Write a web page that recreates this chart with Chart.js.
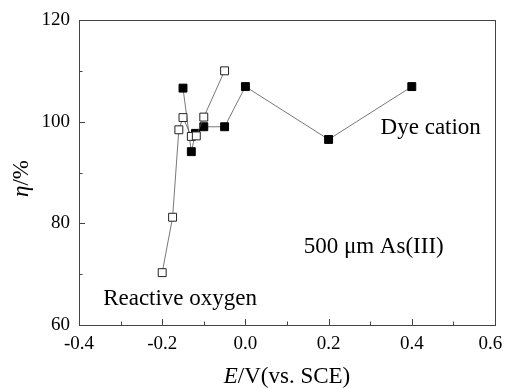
<!DOCTYPE html>
<html>
<head>
<meta charset="utf-8">
<script src="https://cdn.jsdelivr.net/npm/chart.js@4.4.1/dist/chart.umd.min.js"></script>
<style>
  html, body { margin: 0; padding: 0; background: #fff; }
  #wrap { position: relative; width: 505px; height: 388px; }
</style>
</head>
<body>
<div id="wrap"><canvas id="etaChart"></canvas></div>
<script>
// data
const oxygenE   = [-0.20, -0.175, -0.16, -0.15, -0.13, -0.118, -0.10, -0.05];
const oxygenEta = [70.3, 81.2, 98.4, 100.8, 97.1, 97.2, 100.9, 110.0];

const dyeE   = [-0.15, -0.13, -0.12, -0.10, -0.05, 0.00, 0.20, 0.40];
const dyeEta = [106.6, 94.1, 97.7, 99.0, 99.0, 106.9, 96.5, 106.9];

const xTicks = [-0.4, -0.2, 0.0, 0.2, 0.4, 0.6];
const yTicks = [60, 80, 100, 120];

const notes = [
  { text: "Dye cation", x: 0.325, y: 97.6 },
  { text: "500 \u03bcm As(III)", x: 0.14, y: 74.2 },
  { text: "Reactive oxygen", x: -0.342, y: 63.9 }
];

const SERIF = "'Liberation Serif', 'Times New Roman', serif";

function toPoints(xs, ys) {
  return xs.map((v, i) => ({ x: v, y: ys[i] }));
}

// frame, inward ticks, axis titles and text notes
const decorPlugin = {
  id: "decor",
  afterDraw(chart) {
    const { ctx, chartArea: a, scales: { x, y } } = chart;
    ctx.save();
    ctx.strokeStyle = "#444";
    ctx.lineWidth = 1;
    ctx.strokeRect(Math.round(a.left) + 0.5, Math.round(a.top) + 0.5,
      Math.round(a.right - a.left), Math.round(a.bottom - a.top));

    ctx.beginPath();
    const xStep = (xTicks[1] - xTicks[0]) / 2;
    for (let i = 0; i <= (xTicks.length - 1) * 2; i++) {
      const px = Math.round(x.getPixelForValue(xTicks[0] + i * xStep)) + 0.5;
      const len = i % 2 === 0 ? 6 : 3.5;
      ctx.moveTo(px, a.bottom);
      ctx.lineTo(px, a.bottom - len);
    }
    const yStep = (yTicks[1] - yTicks[0]) / 2;
    for (let i = 0; i <= (yTicks.length - 1) * 2; i++) {
      const py = Math.round(y.getPixelForValue(yTicks[0] + i * yStep)) + 0.5;
      const len = i % 2 === 0 ? 6 : 3.5;
      ctx.moveTo(a.left, py);
      ctx.lineTo(a.left + len, py);
    }
    ctx.stroke();

    ctx.fillStyle = "#000";
    ctx.textBaseline = "alphabetic";
    ctx.textAlign = "left";
    ctx.font = "23px " + SERIF;
    notes.forEach(n => {
      ctx.fillText(n.text, x.getPixelForValue(n.x), y.getPixelForValue(n.y));
    });

    // x title: italic E + rest
    const italic = "italic 23px " + SERIF;
    const upright = "23px " + SERIF;
    ctx.font = italic;
    const wE = ctx.measureText("E").width;
    ctx.font = upright;
    const wRest = ctx.measureText("/V(vs. SCE)").width;
    let sx = (a.left + a.right) / 2 - (wE + wRest) / 2;
    ctx.font = italic;
    ctx.fillText("E", sx, 383);
    ctx.font = upright;
    ctx.fillText("/V(vs. SCE)", sx + wE, 383);

    // y title: italic eta + /%
    ctx.translate(28, (a.top + a.bottom) / 2 + 6);
    ctx.rotate(-Math.PI / 2);
    ctx.font = italic;
    const wEta = ctx.measureText("\u03b7").width;
    ctx.font = upright;
    const wPct = ctx.measureText("/%").width;
    sx = -(wEta + wPct) / 2;
    ctx.font = italic;
    ctx.fillText("\u03b7", sx, 0);
    ctx.font = upright;
    ctx.fillText("/%", sx + wEta, 0);
    ctx.restore();
  }
};

const tickFont = { family: SERIF, size: 19 };

new Chart(document.getElementById("etaChart"), {
  type: "scatter",
  data: {
    datasets: [
      {
        label: "Reactive oxygen",
        data: toPoints(oxygenE, oxygenEta),
        showLine: true,
        borderColor: "#555",
        borderWidth: 0.8,
        pointStyle: "rect",
        pointRadius: 5.6,
        pointBackgroundColor: "#fff",
        pointBorderColor: "#222",
        pointBorderWidth: 1
      },
      {
        label: "Dye cation",
        data: toPoints(dyeE, dyeEta),
        showLine: true,
        borderColor: "#555",
        borderWidth: 0.8,
        pointStyle: "rect",
        pointRadius: 5.6,
        pointBackgroundColor: "#000",
        pointBorderColor: "#000",
        pointBorderWidth: 1
      }
    ]
  },
  options: {
    responsive: true,
    maintainAspectRatio: false,
    animation: false,
    layout: { padding: { top: 20, right: 10, left: 0, bottom: 0 } },
    plugins: {
      legend: { display: false },
      tooltip: { enabled: false }
    },
    scales: {
      x: {
        type: "linear",
        min: xTicks[0],
        max: xTicks[xTicks.length - 1],
        afterBuildTicks: s => { s.ticks = xTicks.map(v => ({ value: v })); },
        afterFit: s => { s.height = 63; s.paddingLeft = 0; s.paddingRight = 0; },
        grid: { display: false, drawTicks: false },
        border: { display: false },
        ticks: {
          color: "#000",
          font: tickFont,
          padding: 8,
          maxRotation: 0,
          autoSkip: false,
          // last label is nudged left in the original so it stays inside the image
          callback: (v, i) => v.toFixed(1) + (i === xTicks.length - 1 ? "\u2002" : "")
        }
      },
      y: {
        type: "linear",
        min: yTicks[0],
        max: yTicks[yTicks.length - 1],
        afterBuildTicks: s => { s.ticks = yTicks.map(v => ({ value: v })); },
        afterFit: s => { s.width = 79; s.paddingTop = 0; s.paddingBottom = 0; },
        grid: { display: false, drawTicks: false },
        border: { display: false },
        ticks: {
          color: "#000",
          font: tickFont,
          padding: 9,
          autoSkip: false,
          callback: v => String(v)
        }
      }
    }
  },
  plugins: [decorPlugin]
});
</script>
</body>
</html>
